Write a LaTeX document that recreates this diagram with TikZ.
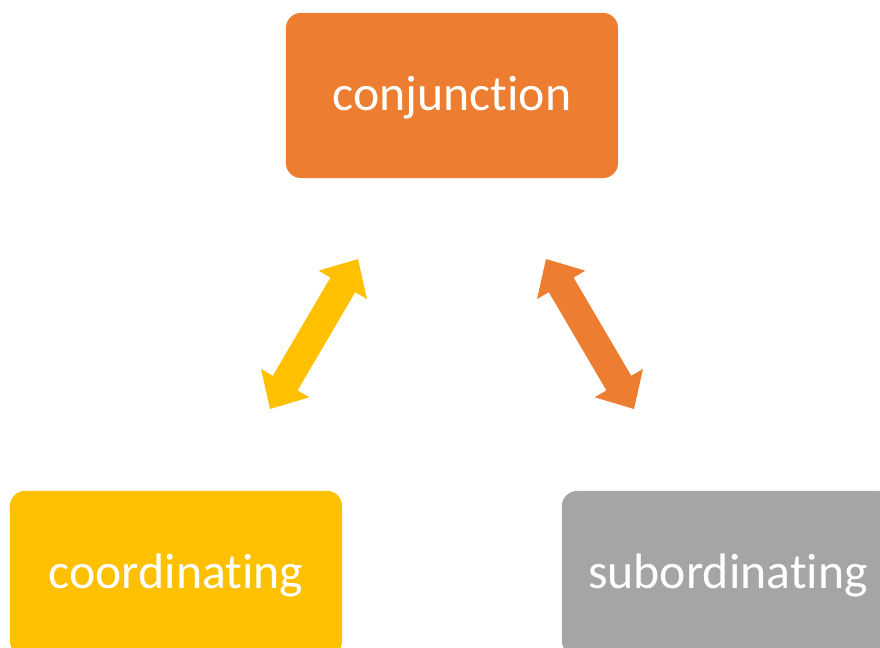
\documentclass[tikz,border=0pt]{standalone}
\usepackage{fontspec}
\setmainfont[Ligatures={NoCommon}]{Carlito}
\usetikzlibrary{calc}

\definecolor{conjorange}{HTML}{ED7D31}
\definecolor{coordyellow}{HTML}{FFC000}
\definecolor{subordgray}{HTML}{A5A5A5}

\tikzset{
  wordbox/.style={rounded corners=0.375cm, minimum width=8.3cm, minimum height=4.125cm,
    inner sep=0pt, text=white, font=\fontsize{35.4}{40}\selectfont,
    text height=0.75cm, text depth=0pt},
}

% block arrow with two heads between tips #1 and #2
\newcommand{\blockarrow}[3]{
  \fill[#3] (#1) -- ($($(#1)!0.75cm!(#2)$)!0.7cm!90:(#2)$)
    -- ($($(#1)!0.75cm!(#2)$)!0.36cm!90:(#2)$)
    -- ($($(#2)!0.75cm!(#1)$)!0.36cm!-90:(#1)$)
    -- ($($(#2)!0.75cm!(#1)$)!0.7cm!-90:(#1)$)
    -- (#2)
    -- ($($(#2)!0.75cm!(#1)$)!0.7cm!90:(#1)$)
    -- ($($(#2)!0.75cm!(#1)$)!0.36cm!90:(#1)$)
    -- ($($(#1)!0.75cm!(#2)$)!0.36cm!-90:(#2)$)
    -- ($($(#1)!0.75cm!(#2)$)!0.7cm!-90:(#2)$) -- cycle;
}

\begin{document}
\begin{tikzpicture}[x=0.025cm, y=-0.025cm]
\useasboundingbox (0,0) rectangle (880,648);
\clip (0,0) rectangle (880,648);

\node[wordbox, fill=conjorange] (conj) at (452,95.5) {conjunction}; %top
\node[wordbox, fill=coordyellow] (coord) at (176,573.5) {coordinating}; %left
\node[wordbox, fill=subordgray] (subord) at (728,573.5) {subordinating}; %right

\coordinate (conjleft) at (358,259);
\coordinate (coordtip) at (270,409);
\coordinate (conjright) at (546,259);
\coordinate (subordtip) at (634,409);

\blockarrow{conjleft}{coordtip}{coordyellow} %conj--coord
\blockarrow{conjright}{subordtip}{conjorange} %conj--subord
\end{tikzpicture}
\end{document}
